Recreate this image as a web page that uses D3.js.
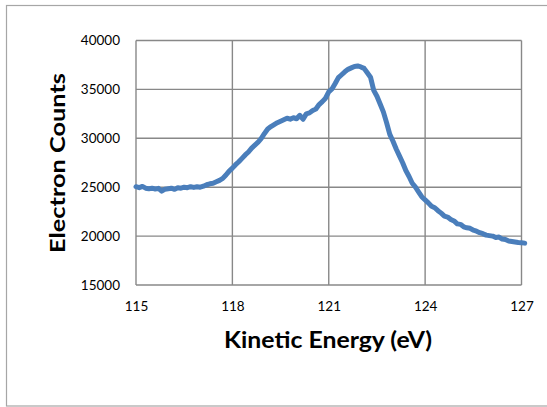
<!DOCTYPE html>
<html>
<head>
<meta charset="utf-8">
<script src="https://cdn.jsdelivr.net/npm/d3@7"></script>
<style>
  html, body { margin: 0; padding: 0; background: #fff; }
  svg { display: block; }
</style>
</head>
<body>
<svg id="chart" width="547" height="407"></svg>
<script>
// Kinetic energy (eV), sampled every 0.1 eV
const energy = [
  115.0,115.1,115.2,115.3,115.4,115.5,115.6,115.7,115.8,115.9,
  116.0,116.1,116.2,116.3,116.4,116.5,116.6,116.7,116.8,116.9,
  117.0,117.1,117.2,117.3,117.4,117.5,117.6,117.7,117.8,117.9,
  118.0,118.1,118.2,118.3,118.4,118.5,118.6,118.7,118.8,118.9,
  119.0,119.1,119.2,119.3,119.4,119.5,119.6,119.7,119.8,119.9,
  120.0,120.1,120.2,120.3,120.4,120.5,120.6,120.7,120.8,120.9,
  121.0,121.1,121.2,121.3,121.4,121.5,121.6,121.7,121.8,121.9,
  122.0,122.1,122.2,122.3,122.4,122.5,122.6,122.7,122.8,122.9,
  123.0,123.1,123.2,123.3,123.4,123.5,123.6,123.7,123.8,123.9,
  124.0,124.1,124.2,124.3,124.4,124.5,124.6,124.7,124.8,124.9,
  125.0,125.1,125.2,125.3,125.4,125.5,125.6,125.7,125.8,125.9,
  126.0,126.1,126.2,126.3,126.4,126.5,126.6,126.7,126.8,126.9,
  127.0,127.1
];

// Measured electron counts at each energy
const counts = [
  25050,24950,25080,24900,24850,24900,24820,24880,24600,24800,
  24850,24900,24780,24950,24900,25000,24950,25050,24980,25050,
  25000,25100,25250,25350,25400,25550,25700,25900,26250,26650,
  26950,27300,27600,27950,28300,28600,29000,29300,29600,30000,
  30500,30950,31200,31400,31600,31750,31900,32050,31950,32100,
  32000,32350,31950,32500,32600,32850,33000,33450,33750,34100,
  34750,35050,35600,36200,36500,36800,37050,37200,37350,37400,
  37300,37150,36700,36250,34900,34300,33500,32700,31600,30400,
  29700,28900,28200,27500,26700,26100,25400,25000,24500,24000,
  23700,23400,23050,22900,22600,22350,22050,21950,21700,21550,
  21250,21200,20950,20850,20800,20600,20500,20350,20250,20100,
  20050,20000,19850,19900,19700,19650,19500,19450,19400,19350,
  19320,19280
];

const xTicks = [115, 118, 121, 124, 127];
const yTicks = [15000, 20000, 25000, 30000, 35000, 40000];

const xTitle = "Kinetic Energy (eV)";
const yTitle = "Electron Counts";

const svg = d3.select("#chart");
const font = "Lato, 'Open Sans', sans-serif";

// Outer chart frame
svg.append("rect")
  .attr("x", 6.5).attr("y", 5.5)
  .attr("width", 545).attr("height", 400.5)
  .attr("fill", "#fff")
  .attr("stroke", "#a6a6a6")
  .attr("stroke-width", 1.2);

const plot = { left: 136, right: 521.5, top: 40.5, bottom: 285 };

const x = d3.scaleLinear().domain([115, 127]).range([plot.left, plot.right]);
const y = d3.scaleLinear().domain([15000, 40000]).range([plot.bottom, plot.top]);

// Gridlines
const grid = svg.append("g").attr("stroke", "#888").attr("stroke-width", 1.4);
grid.selectAll("line.v").data(xTicks).join("line")
  .attr("class", "v")
  .attr("x1", d => x(d)).attr("x2", d => x(d))
  .attr("y1", plot.top).attr("y2", plot.bottom);
grid.selectAll("line.h").data(yTicks).join("line")
  .attr("class", "h")
  .attr("x1", plot.left).attr("x2", plot.right)
  .attr("y1", d => y(d)).attr("y2", d => y(d));

// Axes (labels only; lines come from the grid)
const xAxis = svg.append("g")
  .attr("transform", `translate(0,${plot.bottom})`)
  .call(d3.axisBottom(x).tickValues(xTicks).tickSize(0).tickPadding(16).tickFormat(d3.format("d")));
const yAxis = svg.append("g")
  .attr("transform", `translate(${plot.left},0)`)
  .call(d3.axisLeft(y).tickValues(yTicks).tickSize(0).tickPadding(16).tickFormat(d3.format("d")));
[xAxis, yAxis].forEach(g => {
  g.select(".domain").remove();
  g.selectAll("text")
    .attr("font-family", font)
    .attr("font-size", 13.5)
    .attr("fill", "#000");
});

// Spectrum line
const line = d3.line()
  .x((d, i) => x(energy[i]))
  .y(d => y(d))
  .curve(d3.curveLinear);

svg.append("path")
  .datum(counts)
  .attr("d", line)
  .attr("fill", "none")
  .attr("stroke", "#4a7ebb")
  .attr("stroke-width", 5)
  .attr("stroke-linejoin", "round")
  .attr("stroke-linecap", "round");

// Axis titles
svg.append("text")
  .attr("x", 328).attr("y", 348)
  .attr("text-anchor", "middle")
  .attr("font-family", font)
  .attr("font-weight", "bold")
  .attr("font-size", 22)
  .attr("textLength", 208)
  .attr("lengthAdjust", "spacingAndGlyphs")
  .text(xTitle);

svg.append("text")
  .attr("transform", "translate(65,163) rotate(-90)")
  .attr("text-anchor", "middle")
  .attr("font-family", font)
  .attr("font-weight", "bold")
  .attr("font-size", 20)
  .attr("textLength", 180)
  .attr("lengthAdjust", "spacingAndGlyphs")
  .text(yTitle);
</script>
</body>
</html>
